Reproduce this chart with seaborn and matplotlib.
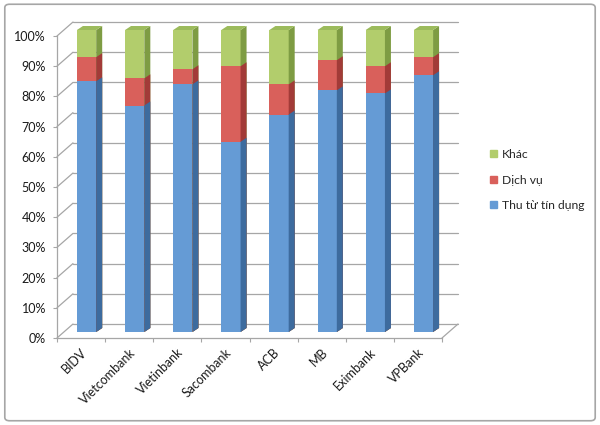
import numpy as np
import pandas as pd
import seaborn as sns
import matplotlib.pyplot as plt
from matplotlib import transforms
from matplotlib.patches import Polygon, FancyBboxPatch, Patch
from matplotlib.ticker import PercentFormatter

# Data (percent share of income)
banks = ['BIDV', 'Vietcombank', 'Vietinbank', 'Sacombank', 'ACB', 'MB', 'Eximbank', 'VPBank']
tin_dung = [83, 75, 82, 63, 72, 80, 79, 85]
dich_vu = [8, 9, 5, 25, 10, 10, 9, 6]
khac = [9, 16, 13, 12, 18, 10, 12, 9]
legend_order = ['Khác', 'Dịch vụ', 'Thu từ tín dụng']

# front face, side face colors per series
front = {'Khác': '#B2CD6C', 'Dịch vụ': '#D9605B', 'Thu từ tín dụng': '#659BD5'}
side = {'Khác': '#7E9C43', 'Dịch vụ': '#A23B38', 'Thu từ tín dụng': '#3D6B9E'}
top_col = '#9CBB5C'
grid_col = '#A6A6A6'

sns.set_theme(style='white')
plt.rcParams['font.family'] = ['Lato', 'DejaVu Sans']

df = pd.DataFrame({'bank': banks, 'tin_dung': tin_dung, 'dich_vu': dich_vu, 'khac': khac})
df['mid'] = df['tin_dung'] + df['dich_vu']
df['top'] = df['mid'] + df['khac']

fig = plt.figure(figsize=(6, 4.25), dpi=100)
ax = fig.add_axes([57 / 600, 1 - 338 / 425, 385 / 600, 302 / 425])
ax.patch.set_visible(False)
ax.set_xlim(-0.5, len(banks) - 0.5)
ax.set_ylim(0, 100)

# pseudo 3D offsets in pixels
back_dx, back_dy = 16, 14
bar_dx, bar_dy = 5.5, 6
depth_dx, depth_dy = 6, 4
back = transforms.offset_copy(ax.transData, fig=fig, x=back_dx, y=back_dy, units='dots')
bar_tr = transforms.offset_copy(ax.transData, fig=fig, x=bar_dx, y=bar_dy, units='dots')
ident = transforms.IdentityTransform()

# back wall gridlines + left wall diagonals
x0, x1 = ax.get_xlim()
for v in range(0, 101, 10):
    ax.plot([x0, x1], [v, v], transform=back, color=grid_col, lw=0.9, clip_on=False, zorder=0)
    p = ax.transData.transform((x0, v))
    ax.plot([p[0], p[0] + back_dx], [p[1], p[1] + back_dy], transform=ident,
            color=grid_col, lw=0.9, clip_on=False, zorder=0)
# floor right edge
p = ax.transData.transform((x1, 0))
ax.plot([p[0], p[0] + back_dx], [p[1], p[1] + back_dy], transform=ident,
        color=grid_col, lw=0.9, clip_on=False, zorder=0)

# stacked bars, drawn from tallest to shortest
layers = [('top', 'Khác'), ('mid', 'Dịch vụ'), ('tin_dung', 'Thu từ tín dụng')]
for col, name in layers:
    n = len(ax.patches)
    sns.barplot(data=df, x='bank', y=col, color=front[name], saturation=1,
                width=0.4, edgecolor='none', linewidth=0, ax=ax)
    for bar in ax.patches[n:]:
        bar.set_transform(bar_tr)
        bx, by, bw, bh = bar.get_x(), bar.get_y(), bar.get_width(), bar.get_height()
        (l, b) = bar_tr.transform((bx, by))
        (r, t) = bar_tr.transform((bx + bw, by + bh))
        ax.add_patch(Polygon([(r, b), (r + depth_dx, b + depth_dy), (r + depth_dx, t + depth_dy), (r, t)],
                             closed=True, transform=ident, fc=side[name], ec='none', clip_on=False))
        if col == 'top':
            ax.add_patch(Polygon([(l, t), (r, t), (r + depth_dx, t + depth_dy), (l + depth_dx, t + depth_dy)],
                                 closed=True, transform=ident, fc=top_col, ec='none', clip_on=False))
        bar.set_clip_on(False)

ax.set_xlabel('')
ax.set_ylabel('')
ax.set_yticks(range(0, 101, 10))
ax.yaxis.set_major_formatter(PercentFormatter(decimals=0))
ax.set_xticks(range(len(banks)))
ax.set_xticklabels(banks, rotation=45, ha='right', rotation_mode='anchor')
ax.set_xticks(np.arange(-0.5, len(banks), 1), minor=True)
ax.tick_params(axis='x', which='major', length=0, pad=6, labelsize=9, colors='#1a1a1a')
ax.tick_params(axis='x', which='minor', length=3, width=0.8, color=grid_col, bottom=True)
ax.tick_params(axis='y', length=3, width=0.8, color=grid_col, pad=5, labelsize=9,
               labelcolor='#1a1a1a', left=True)
for s in ['top', 'right']:
    ax.spines[s].set_visible(False)
for s in ['left', 'bottom']:
    ax.spines[s].set_color(grid_col)
    ax.spines[s].set_linewidth(0.9)

# legend
handles = [Patch(color=front[n]) for n in legend_order]
fig.legend(handles, legend_order, loc='center left',
           bbox_to_anchor=(484 / 600, 1 - 180 / 425), frameon=False, fontsize=8.7,
           handlelength=0.55, handleheight=0.55, handletextpad=0.45, labelspacing=1.2,
           borderpad=0)

# outer chart border
fig.add_artist(FancyBboxPatch((0.008, 0.01), 0.984, 0.98,
                              boxstyle='round,pad=0,rounding_size=0.008',
                              transform=fig.transFigure, fill=False,
                              ec='#A6A6A6', lw=1.2))

fig.savefig('out.png', dpi=100)
